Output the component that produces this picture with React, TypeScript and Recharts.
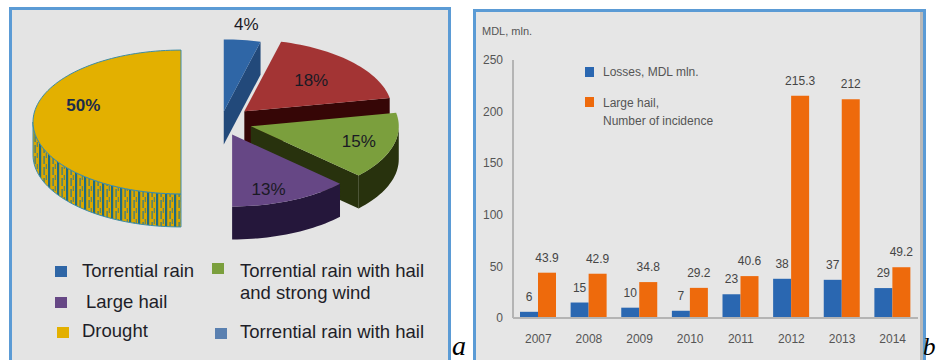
import { PieChart, Pie, BarChart, Bar, XAxis, YAxis, LabelList } from 'recharts'

// --- panel a: weather hazards, share of losses (%)
const hazardNames = [
  'Torrential rain',
  'Torrential rain with hail',
  'Torrential rain with hail and strong wind',
  'Large hail',
  'Drought',
]
const hazardShares = [4, 18, 15, 13, 50]

// legend as printed in the figure (two columns)
const legendLabels = ['Torrential rain', 'Large hail', 'Drought', 'Torrential rain with hail', 'and strong wind', 'Torrential rain with hail']

// --- panel b: losses vs. large hail incidence
const years = ['2007', '2008', '2009', '2010', '2011', '2012', '2013', '2014']
const lossesMdl = [6, 15, 10, 7, 23, 38, 37, 29]
const largeHailCount = [43.9, 42.9, 34.8, 29.2, 40.6, 215.3, 212, 49.2]
const yTicks = [0, 50, 100, 150, 200, 250]

// styling for the fake-3D pie
const sliceTop = ['#2f66a6', '#a33434', '#7b9f3d', '#664785', '#e3b000']
const sliceSide = ['#22497a', '#360606', '#28320d', '#25173b', 'url(#droughtSide)']
const explode = [22, 32, 31, 28, 40]
const labelRadius = [1.22, 0.62, 0.76, 0.62, 0.66]
const labelDy = [0, 0, 0, 14, -17]
const TILT = 0.486
const DEPTH = 33
const RAD = Math.PI / 180

const pieData = hazardNames.map((name, i) => ({ name, value: hazardShares[i] }))
const barData = years.map((year, i) => ({ year, losses: lossesMdl[i], hail: largeHailCount[i] }))

function sliceIndex(p: any): number {
  if (typeof p.index === 'number') return p.index
  const n = p.name ?? p.payload?.name
  return Math.max(0, hazardNames.indexOf(n))
}

function apexOf(p: any, i: number) {
  const mid = ((p.startAngle + p.endAngle) / 2) * RAD
  return {
    ox: p.cx + explode[i] * Math.cos(mid),
    oy: p.cy - explode[i] * Math.sin(mid) * TILT,
    mid,
  }
}

function Slice3D(p: any) {
  const i = sliceIndex(p)
  const rx = p.outerRadius
  const ry = rx * TILT
  const { ox, oy } = apexOf(p, i)
  const pt = (a: number, dz = 0) => [ox + rx * Math.cos(a * RAD), oy - ry * Math.sin(a * RAD) + dz]
  const arc = (a1: number, a2: number, dz: number) => {
    const n = Math.max(2, Math.ceil(Math.abs(a2 - a1) / 2))
    const out: string[] = []
    for (let k = 0; k <= n; k++) {
      const [x, y] = pt(a1 + ((a2 - a1) * k) / n, dz)
      out.push(`${x.toFixed(2)},${y.toFixed(2)}`)
    }
    return out
  }
  const hi = Math.max(p.startAngle, p.endAngle)
  const lo = Math.min(p.startAngle, p.endAngle)

  const walls: string[] = []
  const wall = (a: number) => {
    const [x, y] = pt(a)
    walls.push(`M${ox},${oy} L${x},${y} L${x},${y + DEPTH} L${ox},${oy + DEPTH} Z`)
  }
  if (Math.cos(hi * RAD) < -0.001) wall(hi)
  if (Math.cos(lo * RAD) > 0.001) wall(lo)

  const sides: string[] = []
  for (let k = Math.floor(lo / 360) - 1; k <= Math.ceil(hi / 360) + 1; k++) {
    const s = Math.max(lo, k * 360 - 180)
    const e = Math.min(hi, k * 360)
    if (e - s > 0.01) {
      const top = arc(s, e, 0)
      const bottom = arc(e, s, DEPTH)
      sides.push(`M${top.join(' L')} L${bottom.join(' L')} Z`)
    }
  }

  const topPath = `M${ox},${oy} L${arc(hi, lo, 0).join(' L')} Z`
  const isDrought = i === 4
  const edge = isDrought ? '#3d8ca6' : 'none'

  return (
    <g>
      {isDrought && (
        <defs>
          <pattern id="droughtSide" width="9" height="11" patternUnits="userSpaceOnUse">
            <rect width="9" height="11" fill="#d9a700" />
            <rect x="0" width="2.2" height="11" fill="#1f6b82" />
            <rect x="4.5" y="3" width="1.2" height="8" fill="#2a7890" />
            <rect x="6.8" y="0" width="0.9" height="5" fill="#2a7890" />
          </pattern>
        </defs>
      )}
      {walls.map((d, k) => (
        <path key={'w' + k} d={d} fill={sliceSide[i]} stroke={edge} strokeWidth={1} />
      ))}
      {sides.map((d, k) => (
        <path key={'s' + k} d={d} fill={sliceSide[i]} stroke={edge} strokeWidth={1} />
      ))}
      <path d={topPath} fill={sliceTop[i]} stroke={edge} strokeWidth={1} />
    </g>
  )
}

function renderPct(p: any) {
  const i = sliceIndex(p)
  const rx = p.outerRadius
  const { ox, oy, mid } = apexOf(p, i)
  const x = ox + labelRadius[i] * rx * Math.cos(mid)
  const y = oy - labelRadius[i] * rx * TILT * Math.sin(mid) + labelDy[i]
  return (
    <text
      x={x}
      y={y}
      textAnchor="middle"
      dominantBaseline="central"
      fontSize={17}
      fontFamily="Liberation Sans, Arial, sans-serif"
      fontWeight={i === 4 ? 700 : 400}
      fill={i === 4 ? '#1c2b4a' : '#1a1a24'}
    >
      {`${p.value}%`}
    </text>
  )
}

const sq = (left: number, top: number, color: string) => (
  <div style={{ position: 'absolute', left, top, width: 12, height: 11, background: color }} />
)
const txt = (left: number, top: number, s: string, size = 18.5, color = '#1e1e28') => (
  <div style={{ position: 'absolute', left, top, fontSize: size, lineHeight: 1, color, whiteSpace: 'nowrap' }}>{s}</div>
)

export default function App() {
  return (
    <div
      style={{
        position: 'absolute',
        left: 0,
        top: 0,
        width: 936,
        height: 360,
        overflow: 'hidden',
        background: '#fff',
        fontFamily: 'Liberation Sans, Arial, sans-serif',
      }}
    >
      {/* panel a */}
      <div
        style={{
          position: 'absolute',
          left: 9,
          top: 7,
          width: 442,
          height: 360,
          boxSizing: 'border-box',
          border: '3px solid #5b9bd5',
          background: '#e4e4e4',
        }}
      />
      <div style={{ position: 'absolute', left: 12, top: 10 }}>
        <PieChart width={436} height={250} margin={{ top: 0, right: 0, bottom: 0, left: 0 }}>
          <Pie
            data={pieData}
            dataKey="value"
            nameKey="name"
            cx={209}
            cy={112}
            outerRadius={148}
            startAngle={90}
            endAngle={-270}
            stroke="none"
            shape={Slice3D}
            label={renderPct}
            labelLine={false}
            isAnimationActive={false}
          />
        </PieChart>
      </div>
      {sq(55, 266, '#2f66a6')}
      {txt(82, 262, legendLabels[0])}
      {sq(55, 297, '#664785')}
      {txt(86, 293, legendLabels[1])}
      {sq(57, 327, '#e3b000')}
      {txt(82, 322, legendLabels[2])}
      {sq(212, 263, '#7b9f3d')}
      {txt(240, 262, legendLabels[3])}
      {txt(240, 284, legendLabels[4])}
      {sq(215, 328, '#5a80b0')}
      {txt(240, 323, legendLabels[5])}
      <div
        style={{
          position: 'absolute',
          left: 452,
          top: 332,
          fontFamily: 'Liberation Serif, serif',
          fontStyle: 'italic',
          fontSize: 28,
          lineHeight: 1,
          color: '#000',
        }}
      >
        a
      </div>

      {/* panel b */}
      <div
        style={{
          position: 'absolute',
          left: 473,
          top: 9,
          width: 453,
          height: 360,
          boxSizing: 'border-box',
          border: '3px solid #5b9bd5',
          boxShadow: 'inset -3px 0 0 #b9b9b9',
          background: '#e6e6e6',
        }}
      />
      <div style={{ position: 'absolute', left: 473, top: 9 }}>
        <BarChart
          width={453}
          height={350}
          data={barData}
          margin={{ top: 51, right: 8, bottom: 11, left: 8 }}
          barGap={0}
          barSize={18}
        >
          <XAxis
            dataKey="year"
            height={30}
            tickLine={false}
            tickMargin={10}
            axisLine={{ stroke: '#b4b4b4', strokeWidth: 2 }}
            tick={{ fontSize: 12, fill: '#555' }}
          />
          <YAxis
            width={32}
            domain={[0, 250]}
            ticks={yTicks}
            tickLine={false}
            tickMargin={4}
            axisLine={{ stroke: '#b4b4b4', strokeWidth: 2 }}
            tick={{ fontSize: 12, fill: '#555' }}
          />
          <Bar dataKey="losses" fill="#2a67b1" isAnimationActive={false}>
            <LabelList dataKey="losses" position="top" offset={11} fontSize={12} fill="#454545" />
          </Bar>
          <Bar dataKey="hail" fill="#ee6a0c" isAnimationActive={false}>
            <LabelList dataKey="hail" position="top" offset={11} fontSize={12} fill="#454545" />
          </Bar>
        </BarChart>
      </div>
      {txt(482, 26, 'MDL, mln.', 11, '#555')}
      <div style={{ position: 'absolute', left: 585, top: 67, width: 9, height: 10, background: '#2a67b1' }} />
      {txt(603, 66, 'Losses, MDL mln.', 12, '#555')}
      <div style={{ position: 'absolute', left: 585, top: 97, width: 9, height: 10, background: '#ee6a0c' }} />
      {txt(603, 97, 'Large hail,', 12, '#555')}
      {txt(603, 115, 'Number of incidence', 12, '#555')}
      <div
        style={{
          position: 'absolute',
          left: 923,
          top: 334,
          fontFamily: 'Liberation Serif, serif',
          fontStyle: 'italic',
          fontSize: 25,
          lineHeight: 1,
          color: '#000',
        }}
      >
        b
      </div>
    </div>
  )
}
